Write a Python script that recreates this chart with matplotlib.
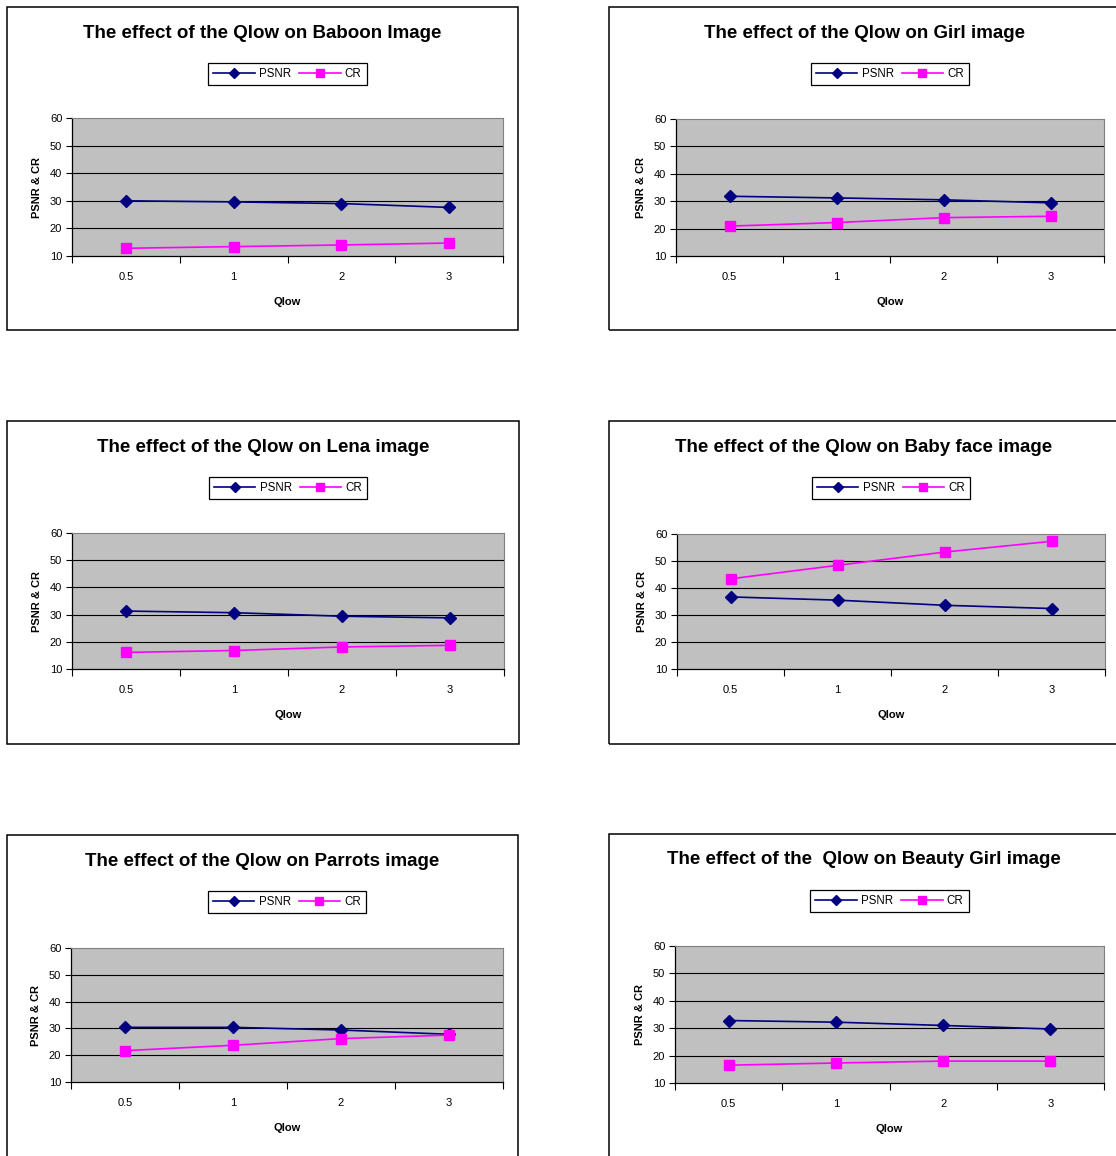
import matplotlib

matplotlib.use("Agg")
import matplotlib.pyplot as plt
from matplotlib.patches import Rectangle

plt.rcParams["font.family"] = ["Liberation Sans", "DejaVu Sans"]

W, H = 1116, 1156

QLOW = ["0.5", "1", "2", "3"]

TITLES = [
    "The effect of the Qlow on Baboon Image",
    "The effect of the Qlow on Girl image",
    "The effect of the Qlow on Lena image",
    "The effect of the Qlow on Baby face image",
    "The effect of the Qlow on Parrots image",
    "The effect of the  Qlow on Beauty Girl image",
]

PSNR_BABOON = [30.0, 29.6, 29.0, 27.6]
CR_BABOON = [12.8, 13.4, 14.0, 14.7]
PSNR_GIRL = [31.8, 31.2, 30.5, 29.4]
CR_GIRL = [20.9, 22.2, 24.0, 24.5]
PSNR_LENA = [31.3, 30.7, 29.4, 28.8]
CR_LENA = [16.1, 16.8, 18.1, 18.7]
PSNR_BABY = [36.7, 35.5, 33.6, 32.4]
CR_BABY = [43.4, 48.4, 53.3, 57.3]
PSNR_PARROTS = [30.4, 30.4, 29.4, 27.8]
CR_PARROTS = [21.7, 23.7, 26.2, 27.5]
PSNR_BEAUTY = [32.8, 32.2, 31.0, 29.7]
CR_BEAUTY = [16.5, 17.3, 18.0, 18.0]

PSNR_ALL = [PSNR_BABOON, PSNR_GIRL, PSNR_LENA, PSNR_BABY, PSNR_PARROTS, PSNR_BEAUTY]
CR_ALL = [CR_BABOON, CR_GIRL, CR_LENA, CR_BABY, CR_PARROTS, CR_BEAUTY]

NAVY = "#000080"
MAGENTA = "#FF00FF"
PLOT_BG = "#C0C0C0"

# pixel layout: (outer box x0, y0, x1, y1), (plot area x0, y0, x1, y1)
BOXES = [
    ((7, 7, 518, 330), (72, 118, 503, 256)),
    ((609, 7, 1119, 330), (676, 119, 1104, 256)),
    ((7, 421, 519, 744), (72, 533, 504, 669)),
    ((609, 421, 1119, 744), (677, 534, 1105, 669)),
    ((7, 835, 518, 1170), (71, 948, 503, 1082)),
    ((609, 834, 1119, 1170), (675, 946, 1104, 1083)),
]


def frac(x0, y0, x1, y1):
    return [x0 / W, 1 - y1 / H, (x1 - x0) / W, (y1 - y0) / H]


fig = plt.figure(figsize=(W / 100, H / 100), dpi=100)
fig.patch.set_facecolor("white")

for i, (outer, inner) in enumerate(BOXES):
    ox0, oy0, ox1, oy1 = outer
    fig.patches.append(
        Rectangle((ox0 / W, 1 - oy1 / H), (ox1 - ox0) / W, (oy1 - oy0) / H,
                  transform=fig.transFigure, facecolor="none", edgecolor="black",
                  linewidth=1.1, zorder=0)
    )
    # title centred on the outer box
    fig.text((ox0 + ox1) / 2 / W, 1 - (oy0 + 26) / H, TITLES[i], ha="center", va="center",
             fontsize=13.5, fontweight="bold")

    ax = fig.add_axes(frac(*inner))
    ax.set_facecolor(PLOT_BG)
    x = range(len(QLOW))
    ax.plot(x, PSNR_ALL[i], color=NAVY, marker="D", markersize=6.5, linewidth=1.2,
            label="PSNR", zorder=3, clip_on=False)
    ax.plot(x, CR_ALL[i], color=MAGENTA, marker="s", markersize=7, linewidth=1.2,
            label="CR", zorder=3, clip_on=False)

    ax.set_xlim(-0.5, len(QLOW) - 0.5)
    ax.set_ylim(10, 60)
    ax.set_yticks([10, 20, 30, 40, 50, 60])
    for yv in [20, 30, 40, 50]:
        ax.axhline(yv, color="black", linewidth=0.8, zorder=1)

    ax.set_xticks([k - 0.5 for k in range(len(QLOW) + 1)])
    ax.set_xticklabels([])
    ax.set_xticks(list(x), minor=True)
    ax.set_xticklabels(QLOW, minor=True)
    ax.tick_params(axis="x", which="major", direction="out", length=5, width=0.8)
    ax.tick_params(axis="x", which="minor", length=0, pad=11.5, labelsize=8)
    ax.tick_params(axis="y", direction="out", length=4, width=0.8, pad=3, labelsize=8)

    for side in ["top", "right"]:
        ax.spines[side].set_color("#808080")
        ax.spines[side].set_linewidth(0.8)
    for side in ["left", "bottom"]:
        ax.spines[side].set_color("black")
        ax.spines[side].set_linewidth(0.9)

    ax.set_ylabel("PSNR & CR", fontsize=8, fontweight="bold", labelpad=6)
    ax.set_xlabel("Qlow", fontsize=8, fontweight="bold", labelpad=11)

    lx = (inner[0] + inner[2]) / 2 / W
    ly = 1 - (oy0 + 67) / H
    leg = fig.legend(*ax.get_legend_handles_labels(), loc="center", bbox_to_anchor=(lx, ly),
                     ncol=2, fontsize=8.3, frameon=True, fancybox=False, framealpha=1,
                     edgecolor="black", handlelength=3.6, columnspacing=0.7,
                     handletextpad=0.35, borderpad=0.45, markerscale=0.75)
    leg.get_frame().set_linewidth(0.9)

fig.savefig("out.png", dpi=100, facecolor="white")
